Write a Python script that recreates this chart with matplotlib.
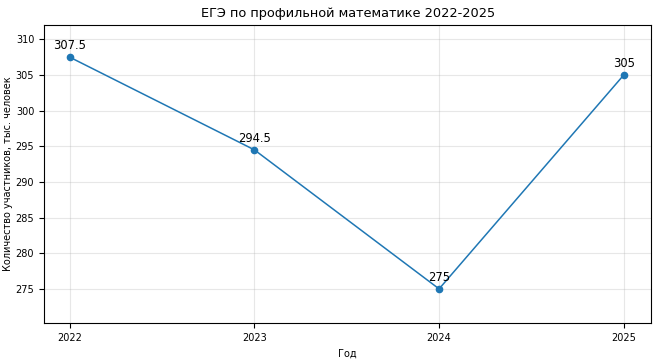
import matplotlib
matplotlib.use("Agg")
import matplotlib.pyplot as plt

years = [2022, 2023, 2024, 2025]
participants = [307.5, 294.5, 275, 305]
labels = ["307.5", "294.5", "275", "305"]

fig, ax = plt.subplots(figsize=(6.56, 3.59), dpi=100)
fig.subplots_adjust(left=0.067, right=0.993, top=0.93, bottom=0.1)
ax.plot(years, participants, marker="o", color="#1f77b4", linewidth=1.1, markersize=4.5)
for x, y, t in zip(years, participants, labels):
    ax.annotate(t, (x, y), textcoords="offset points", xytext=(0, 6), ha="center", fontsize=8.3)
ax.set_title("ЕГЭ по профильной математике 2022-2025", fontsize=9.3)
ax.set_xlabel("Год", fontsize=7)
ax.set_ylabel("Количество участников, тыс. человек", fontsize=7, labelpad=2)
ax.set_xticks(years)
ax.set_yticks([275, 280, 285, 290, 295, 300, 305, 310])
ax.tick_params(labelsize=7)
ax.set_xlim(2021.86, 2025.15)
ax.set_ylim(270.2, 312)
ax.grid(True, alpha=0.3)
fig.savefig("out.png", dpi=100)
